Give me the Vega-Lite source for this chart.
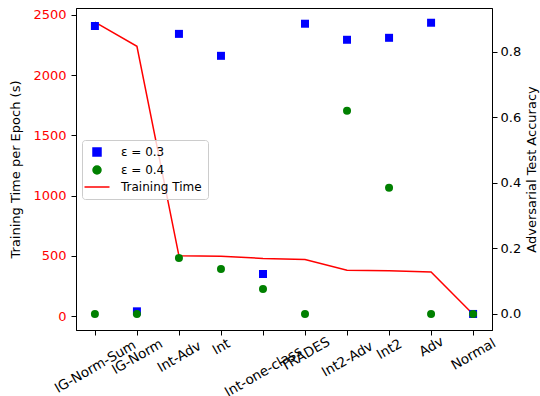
{
  "$schema": "https://vega.github.io/schema/vega-lite/v6.json",
  "width": 416,
  "height": 322,
  "autosize": {"type": "none"},
  "padding": {"left": 76, "top": 8, "right": 48, "bottom": 66},
  "background": "white",
  "config": {
    "font": "DejaVu Sans",
    "view": {"stroke": "black", "strokeWidth": 1},
    "axis": {"grid": false, "domainColor": "black", "tickColor": "black", "labelFontSize": 13, "titleFontSize": 13, "titleFontWeight": "normal", "labelColor": "black", "titleColor": "black", "tickSize": 5}
  },
  "data": {
    "values": [
      {"method": "IG-Norm-Sum", "series": "Training Time", "value": 2440},
      {"method": "IG-Norm", "series": "Training Time", "value": 2240},
      {"method": "Int-Adv", "series": "Training Time", "value": 500},
      {"method": "Int", "series": "Training Time", "value": 497},
      {"method": "Int-one-class", "series": "Training Time", "value": 478},
      {"method": "TRADES", "series": "Training Time", "value": 470},
      {"method": "Int2-Adv", "series": "Training Time", "value": 380},
      {"method": "Int2", "series": "Training Time", "value": 377},
      {"method": "Adv", "series": "Training Time", "value": 365},
      {"method": "Normal", "series": "Training Time", "value": 15},
      {"method": "IG-Norm-Sum", "series": "ε = 0.3", "value": 0.879},
      {"method": "IG-Norm", "series": "ε = 0.3", "value": 0.008},
      {"method": "Int-Adv", "series": "ε = 0.3", "value": 0.855},
      {"method": "Int", "series": "ε = 0.3", "value": 0.788},
      {"method": "Int-one-class", "series": "ε = 0.3", "value": 0.122},
      {"method": "TRADES", "series": "ε = 0.3", "value": 0.886},
      {"method": "Int2-Adv", "series": "ε = 0.3", "value": 0.837},
      {"method": "Int2", "series": "ε = 0.3", "value": 0.843},
      {"method": "Adv", "series": "ε = 0.3", "value": 0.889},
      {"method": "Normal", "series": "ε = 0.3", "value": 0.0},
      {"method": "IG-Norm-Sum", "series": "ε = 0.4", "value": 0.0},
      {"method": "IG-Norm", "series": "ε = 0.4", "value": 0.0},
      {"method": "Int-Adv", "series": "ε = 0.4", "value": 0.171},
      {"method": "Int", "series": "ε = 0.4", "value": 0.137},
      {"method": "Int-one-class", "series": "ε = 0.4", "value": 0.076},
      {"method": "TRADES", "series": "ε = 0.4", "value": 0.0},
      {"method": "Int2-Adv", "series": "ε = 0.4", "value": 0.62},
      {"method": "Int2", "series": "ε = 0.4", "value": 0.385},
      {"method": "Adv", "series": "ε = 0.4", "value": 0.0},
      {"method": "Normal", "series": "ε = 0.4", "value": 0.0}
    ]
  },
  "encoding": {
    "x": {
      "field": "method", "type": "nominal", "sort": null,
      "scale": {"type": "point", "padding": 0.45},
      "axis": {
        "title": null, "labelAngle": -30, "labelAlign": "center", "labelBaseline": "middle", "labelFontSize": 13.5,
        "labelPadding": {"expr": "4 + 2.5*length(datum.label)"},
        "labelOverlap": false, "labelBound": false, "labelFlush": false
      }
    },
    "color": {
      "field": "series", "type": "nominal",
      "scale": {"domain": ["ε = 0.3", "ε = 0.4", "Training Time"], "range": ["#0000ff", "#008000", "#ff0000"]},
      "legend": {
        "title": null, "orient": "none", "legendX": 6, "legendY": 132,
        "fillColor": "rgba(255,255,255,0.8)", "strokeColor": "#cccccc", "cornerRadius": 3, "padding": 6,
        "labelFontSize": 12, "symbolSize": 64, "rowPadding": 4, "labelOffset": 18, "symbolOffset": 3, "symbolStrokeWidth": 1.5,
        "encode": {"symbols": {"update": {
          "stroke": {"scale": "color", "field": "value"},
          "strokeWidth": {"value": 1.5},
          "size": {"signal": "datum.value == 'Training Time' ? 625 : 64"}
        }}}
      }
    }
  },
  "layer": [
    {
      "transform": [{"filter": "datum.series == 'Training Time'"}],
      "mark": {"type": "line", "strokeWidth": 1.5},
      "encoding": {
        "y": {
          "field": "value", "type": "quantitative",
          "scale": {"domain": [-116, 2558], "nice": false, "zero": false},
          "axis": {"title": "Training Time per Epoch (s)", "values": [0, 500, 1000, 1500, 2000, 2500], "format": "d", "labelColor": "#ff0000", "orient": "left", "labelPadding": 5, "titlePadding": 10}
        }
      }
    },
    {
      "transform": [{"filter": "datum.series != 'Training Time'"}],
      "mark": {"type": "point", "filled": true, "opacity": 1},
      "encoding": {
        "y": {
          "field": "value", "type": "quantitative",
          "scale": {"domain": [-0.049, 0.934], "nice": false, "zero": false},
          "axis": {"title": "Adversarial Test Accuracy", "values": [0, 0.2, 0.4, 0.6, 0.8], "format": ".1f", "orient": "right", "labelPadding": 3, "titleAngle": 270, "titleBaseline": "top", "titlePadding": 5}
        },
        "shape": {
          "field": "series", "type": "nominal",
          "scale": {"domain": ["ε = 0.3", "ε = 0.4", "Training Time"], "range": ["square", "circle", "stroke"]},
          "legend": {
            "title": null, "orient": "none", "legendX": 6, "legendY": 132,
            "fillColor": "rgba(255,255,255,0.8)", "strokeColor": "#cccccc", "cornerRadius": 3, "padding": 6,
            "labelFontSize": 12, "symbolSize": 64, "rowPadding": 4, "labelOffset": 18, "symbolOffset": 3, "symbolStrokeWidth": 1.5,
            "encode": {"symbols": {"update": {
              "stroke": {"scale": "color", "field": "value"},
              "strokeWidth": {"value": 1.5},
              "size": {"signal": "datum.value == 'Training Time' ? 625 : 64"}
            }}}
          }
        },
        "size": {"value": 64}
      }
    }
  ],
  "resolve": {"scale": {"y": "independent"}}
}
